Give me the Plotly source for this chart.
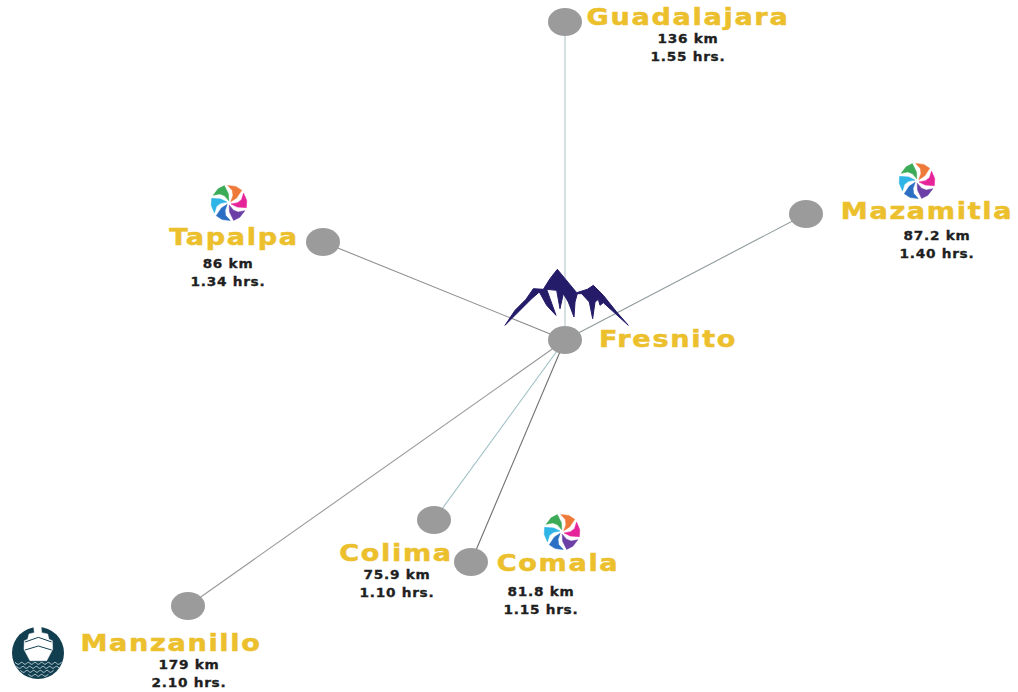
import math
import plotly.graph_objects as go

# Network (pixel-like chart units)
hub = "Fresnito"
places = ["Guadalajara", "Mazamitla", "Tapalpa", "Fresnito", "Colima", "Comala", "Manzanillo"]
node_x = [565, 806, 323, 565, 434, 471, 188]
node_y = [22, 214, 242, 340, 520, 562, 606]
edge_colors = ["#b4c6cc", "#8f9a9c", "#8f8f8f", None, "#9fc0c4", "#6f6f6f", "#9a9a9a"]

label_x = [688, 927, 234, 668, 396, 558, 171]
label_y = [19, 213, 239, 341, 555, 565, 645]

km_labels = ["136 km", "87.2 km", "86 km", None, "75.9 km", "81.8 km", "179 km"]
hrs_labels = ["1.55 hrs.", "1.40 hrs.", "1.34 hrs.", None, "1.10 hrs.", "1.15 hrs.", "2.10 hrs."]
info_x = [688, 937, 228, None, 397, 541, 189]
km_y = [40, 237, 265, None, 576, 593, 666]
hrs_y = [58, 255, 283, None, 594, 611, 684]

# Decorative icons (traced outlines)
mountain_outline = [(15,190),(45,145),(78,112),(100,80),(130,82),(150,50),(172,22),(195,50),(230,92),(262,82),
                    (280,70),(310,100),(350,150),(385,190),(340,150),(310,122),(300,130),(295,112),(285,120),
                    (278,170),(268,120),(245,95),(232,95),(225,120),(222,165),(205,120),(190,95),(180,140),
                    (170,85),(140,82),(150,110),(168,160),(140,130),(118,90),(95,110),(60,145)]
pinwheel_x = [229, 917, 562]
pinwheel_y = [203, 181, 532]
blade_colors = ["#ee7a3a", "#e6249a", "#6b3fa6", "#2b6fc4", "#2fb4e6", "#3cab58"]
blade_u = [0.12, 0.50, 1.00, 0.92, 0.64, 0.62, 0.45, 0.18]
blade_v = [0.02, 0.10, 0.00, -0.38, -0.74, -0.36, -0.14, 0.00]
ship_circle = [38, 653, 26]
ship_outline = [(86,18),(108,18),(110,38),(128,42),(132,58),(142,62),(143,88),(125,122),(75,122),(57,88),(58,62),
                (68,58),(72,42),(88,38)]
chevrons = [[(60,66),(100,52),(140,66)], [(60,90),(100,78),(140,90)]]
wave_rows = [(30,170,130), (34,166,142), (46,154,154), (70,130,166)]

GOLD = "#ecc02d"
DARK = "#1f1f1f"
ox_m, oy_m = 500, 262
ox_s, oy_s = 5, 620
fig = go.Figure()

hi = places.index(hub)
for i, name in enumerate(places):
    if i == hi:
        continue
    fig.add_trace(go.Scatter(x=[node_x[hi], node_x[i]], y=[node_y[hi], node_y[i]], mode="lines",
                             line=dict(color=edge_colors[i], width=1.1), hoverinfo="skip"))

closed = mountain_outline + mountain_outline[:1]
fig.add_trace(go.Scatter(x=[p[0] / 3 + ox_m for p in closed], y=[p[1] / 3 + oy_m for p in closed],
                         mode="lines", fill="toself", fillcolor="#241c69",
                         line=dict(color="#241c69", width=1.0), hoverinfo="skip"))

for cx, cy in zip(pinwheel_x, pinwheel_y):
    for k, c in enumerate(blade_colors):
        a = math.radians(60 * k - 45)
        xs = [cx + 18 * (u * math.cos(a) - v * math.sin(a)) for u, v in zip(blade_u, blade_v)]
        ys = [cy + 18 * (u * math.sin(a) + v * math.cos(a)) for u, v in zip(blade_u, blade_v)]
        fig.add_trace(go.Scatter(x=xs + xs[:1], y=ys + ys[:1], mode="lines", fill="toself", fillcolor=c,
                                 line=dict(color=c, width=0.5), hoverinfo="skip"))

shapes = []
for x, y in zip(node_x, node_y):
    shapes.append(dict(type="circle", xref="x", yref="y", x0=x - 17, x1=x + 17, y0=y - 14, y1=y + 14,
                       fillcolor="#9b9b9b", line=dict(width=0), layer="above"))
sx, sy, sr = ship_circle
shapes.append(dict(type="circle", xref="x", yref="y", x0=sx - sr, x1=sx + sr, y0=sy - sr, y1=sy + sr,
                   fillcolor="#123f50", line=dict(width=0), layer="below"))

closed = ship_outline + ship_outline[:1]
fig.add_trace(go.Scatter(x=[p[0] / 3 + ox_s for p in closed], y=[p[1] / 3 + oy_s for p in closed],
                         mode="lines", fill="toself", fillcolor="#ffffff",
                         line=dict(color="#ffffff", width=0.5), hoverinfo="skip"))
for c in chevrons:
    fig.add_trace(go.Scatter(x=[p[0] / 3 + ox_s for p in c], y=[p[1] / 3 + oy_s for p in c], mode="lines",
                             line=dict(color="#123f50", width=1), hoverinfo="skip"))
for x0, x1, wy in wave_rows:
    wx = list(range(x0, x1 + 1, 10))
    fig.add_trace(go.Scatter(x=[v / 3 + ox_s for v in wx],
                             y=[(wy + (3 if j % 2 else -3)) / 3 + oy_s for j in range(len(wx))],
                             mode="lines", line=dict(color="#c9d8dc", width=0.9, shape="spline"), hoverinfo="skip"))

fig.add_trace(go.Scatter(x=label_x, y=label_y, mode="text", text=places, textposition="middle center",
                         textfont=dict(family="DejaVu Sans", size=23, color=GOLD, weight="bold"), hoverinfo="skip"))
for ys, labels in ((km_y, km_labels), (hrs_y, hrs_labels)):
    fig.add_trace(go.Scatter(x=info_x, y=ys, mode="text", text=labels, textposition="middle center",
                             textfont=dict(family="DejaVu Sans", size=13, color=DARK, weight="bold"), hoverinfo="skip"))

fig.update_layout(width=1018, height=692, margin=dict(l=0, r=0, t=0, b=0), showlegend=False,
                  paper_bgcolor="white", plot_bgcolor="white", shapes=shapes,
                  xaxis=dict(range=[0, 1018], visible=False, fixedrange=True),
                  yaxis=dict(range=[692, 0], visible=False, fixedrange=True))

page_css = """
document.body.style.margin = '0';
document.querySelectorAll('.textpoint text').forEach(function(t){
  var big = parseFloat(t.style.fontSize) > 18;
  t.style.letterSpacing = big ? '1.4px' : '0.7px';
  t.style.stroke = t.style.fill;
  t.style.strokeWidth = big ? '0.5px' : '0.35px';
  var w = t.getComputedTextLength();
  t.setAttribute('lengthAdjust', 'spacingAndGlyphs');
  t.setAttribute('textLength', (w * (big ? 1.18 : 1.05)).toFixed(1));
});
"""
fig.write_html("out.html", post_script=page_css, config={"displayModeBar": False})
